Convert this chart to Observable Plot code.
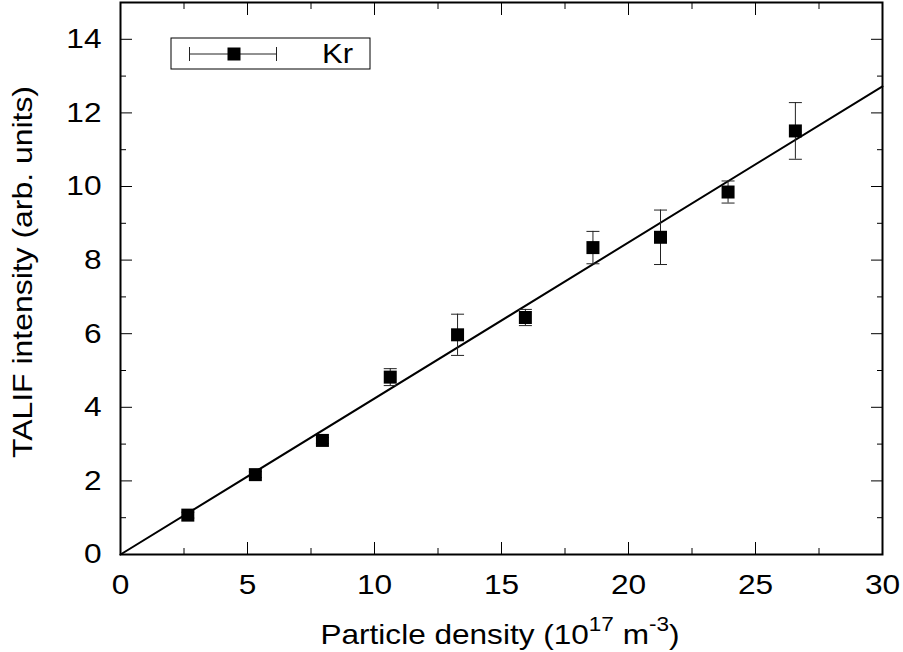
<!DOCTYPE html>
<html><head><meta charset="utf-8">
<script src="https://cdn.jsdelivr.net/npm/d3@7"></script>
<script src="https://cdn.jsdelivr.net/npm/@observablehq/plot@0.6"></script>
<style>body{margin:0;background:#fff} svg{font-family:"Liberation Sans",Arial,sans-serif}</style>
</head><body><div id="chart"></div>
<script>
// Data
const density   = [2.65, 5.31, 7.95, 10.62, 13.27, 15.94, 18.60, 21.26, 23.92, 26.57];
const intensity = [1.07, 2.17, 3.10, 4.82, 5.97, 6.44, 8.34, 8.62, 9.85, 11.51];
const errorBar  = [0.08, 0.08, 0.08, 0.23, 0.56, 0.22, 0.44, 0.74, 0.30, 0.77];
const fitX = [0, 30];
const fitY = [0, 12.72];
const xMajor = [0, 5, 10, 15, 20, 25, 30];
const xMinor = [2.5, 7.5, 12.5, 17.5, 22.5, 27.5];
const yMajor = [0, 2, 4, 6, 8, 10, 12, 14];
const yMinor = [1, 3, 5, 7, 9, 11, 13];
const seriesName = "Kr";

const data = density.map((d, i) => ({x: d, y: intensity[i], lo: intensity[i] - errorBar[i], hi: intensity[i] + errorBar[i]}));
const fit = fitX.map((d, i) => ({x: d, y: fitY[i]}));

const squareSym = {draw(ctx, size) { const r = Math.sqrt(size / Math.PI); ctx.rect(-r, -r, 2 * r, 2 * r); }};
const capSym = {draw(ctx, size) { const r = Math.sqrt(size / Math.PI); ctx.moveTo(-r, 0); ctx.lineTo(r, 0); }};

const W = 903, H = 652;
const fs = 28;
const plot = Plot.plot({
  width: W, height: H,
  marginLeft: 120, marginRight: 21, marginTop: 2, marginBottom: 98,
  style: {fontFamily: "Liberation Sans, Arial, sans-serif", fontSize: fs + "px", background: "white", color: "black"},
  x: {domain: [0, 30], label: null},
  y: {domain: [0, 15], label: null},
  marks: [
    Plot.axisX(xMajor, {anchor: "bottom", tickSize: -12, fill: "none", label: null}),
    Plot.axisX(xMinor, {anchor: "bottom", tickSize: -6, fill: "none", label: null}),
    Plot.axisX(xMajor, {anchor: "top", tickSize: -12, fill: "none", label: null}),
    Plot.axisX(xMinor, {anchor: "top", tickSize: -6, fill: "none", label: null}),
    Plot.axisY(yMajor, {anchor: "left", tickSize: -12, fill: "none", label: null}),
    Plot.axisY(yMinor, {anchor: "left", tickSize: -6, fill: "none", label: null}),
    Plot.axisY(yMajor, {anchor: "right", tickSize: -12, fill: "none", label: null}),
    Plot.axisY(yMinor, {anchor: "right", tickSize: -6, fill: "none", label: null}),
    Plot.axisX(xMajor, {anchor: "bottom", tickSize: 0, tickPadding: 20, stroke: "none", label: null, fontSize: fs, tickFormat: d => String(d)}),
    Plot.axisY(yMajor, {anchor: "left", tickSize: 0, tickPadding: 19, stroke: "none", label: null, fontSize: fs, tickFormat: d => String(d)}),
    Plot.line(fit, {x: "x", y: "y", stroke: "black", strokeWidth: 2}),
    Plot.ruleX(data, {x: "x", y1: "lo", y2: "hi", stroke: "#222", strokeWidth: 1}),
    Plot.dot(data, {x: "x", y: "lo", symbol: capSym, r: 6.5, stroke: "#222", strokeWidth: 1, fill: "none"}),
    Plot.dot(data, {x: "x", y: "hi", symbol: capSym, r: 6.5, stroke: "#222", strokeWidth: 1, fill: "none"}),
    Plot.dot(data, {x: "x", y: "y", symbol: squareSym, r: 6.5, fill: "black", stroke: "none"}),
    Plot.frame({stroke: "black", strokeWidth: 2})
  ]
});
document.getElementById("chart").appendChild(plot);

const svg = d3.select(plot);
// The reference font is a little wider than Liberation Sans: stretch tick labels horizontally
svg.selectAll("text").each(function() {
  const l = this.getComputedTextLength();
  if (l > 0) { this.setAttribute("textLength", (l * 1.13).toFixed(1)); this.setAttribute("lengthAdjust", "spacingAndGlyphs"); }
});

// X axis title with superscripts
const xt = svg.append("text").attr("x", 500).attr("y", 644).attr("text-anchor", "middle")
  .attr("font-size", 28).attr("fill", "black");
xt.append("tspan").text("Particle density (10");
xt.append("tspan").attr("dy", -13).attr("font-size", 20).text("17");
xt.append("tspan").attr("dy", 13).text(" m");
xt.append("tspan").attr("dy", -13).attr("font-size", 20).text("-3");
xt.append("tspan").attr("dy", 13).text(")");
xt.attr("textLength", 359).attr("lengthAdjust", "spacingAndGlyphs");
// Y axis title
svg.append("text").attr("transform", "translate(32,272) rotate(-90)").attr("text-anchor", "middle")
  .attr("font-size", 28).attr("fill", "black").attr("textLength", 372).attr("lengthAdjust", "spacingAndGlyphs")
  .text("TALIF intensity (arb. units)");

// Legend
const lg = svg.append("g");
lg.append("rect").attr("x", 171).attr("y", 38).attr("width", 199).attr("height", 31)
  .attr("fill", "white").attr("stroke", "black").attr("stroke-width", 1);
lg.append("line").attr("x1", 189).attr("x2", 277).attr("y1", 54).attr("y2", 54).attr("stroke", "#222");
lg.append("line").attr("x1", 189.5).attr("x2", 189.5).attr("y1", 47).attr("y2", 61).attr("stroke", "#222");
lg.append("line").attr("x1", 276.5).attr("x2", 276.5).attr("y1", 47).attr("y2", 61).attr("stroke", "#222");
lg.append("rect").attr("x", 227.5).attr("y", 47.5).attr("width", 13).attr("height", 13).attr("fill", "black");
lg.append("text").attr("x", 322).attr("y", 63).attr("text-anchor", "start").attr("font-size", 28).attr("fill", "black")
  .attr("textLength", 31).attr("lengthAdjust", "spacingAndGlyphs").text(seriesName);
</script></body></html>
